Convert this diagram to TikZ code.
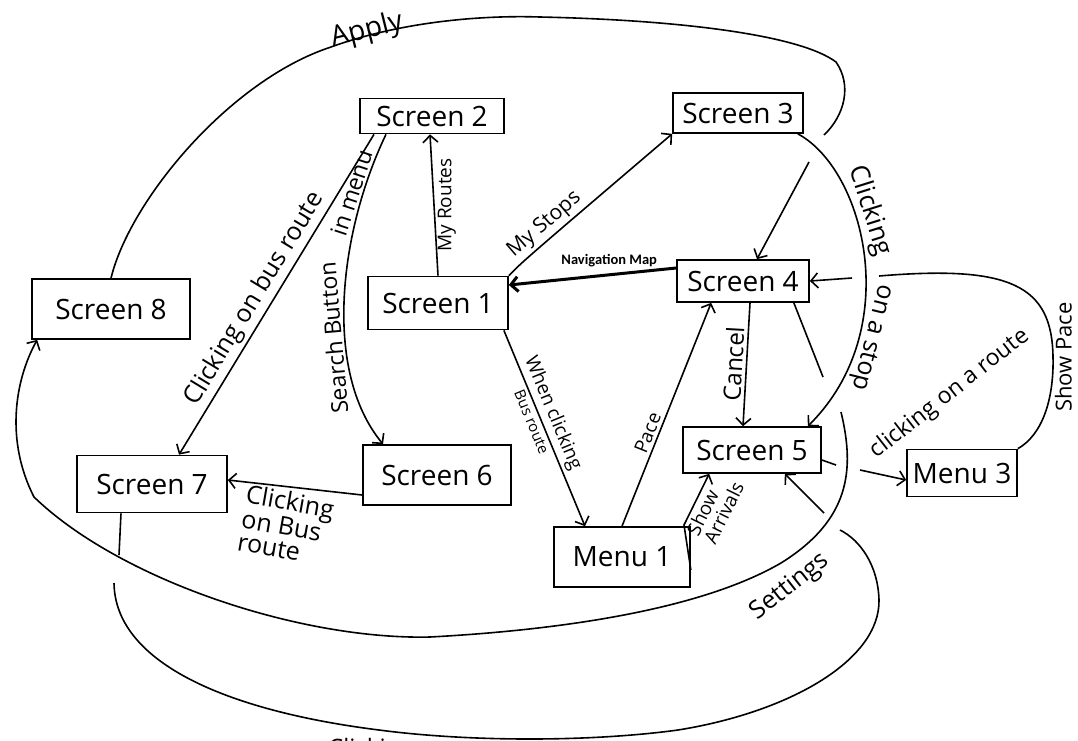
\documentclass[tikz,border=0pt]{standalone}
\usepackage{fontspec}
\setmainfont{Open Sans}
\newfontfamily\typedfont{Carlito}
\usetikzlibrary{arrows.meta}
\newcommand{\handsize}[1]{\fontsize{#1}{#1}\selectfont}

\begin{document}
\begin{tikzpicture}[x=1pt,y=-1pt,
    scr/.style={draw,line width=1.7pt,inner sep=0pt,font=\handsize{28}},
    ln/.style={line width=1.6pt},
    fl/.style={ln,-{Straight Barb[length=7pt,width=15pt]}},
    lab/.style={font=\handsize{24},inner sep=3pt}]
  \useasboundingbox (0,0) rectangle (1078,740);
  % screens and menus
  \node[scr,minimum width=144pt,minimum height=35pt] (s2) at (432,116) {Screen 2};
  \node[scr,minimum width=130pt,minimum height=40pt] (s3) at (738,113) {Screen 3};
  \node[scr,minimum width=158pt,minimum height=60pt] (s8) at (111,309) {Screen 8};
  \node[scr,minimum width=140pt,minimum height=53pt] (s1) at (438,303) {Screen 1};
  \node[scr,minimum width=132pt,minimum height=42pt] (s4) at (743,281) {Screen 4};
  \node[scr,minimum width=150pt,minimum height=57pt] (s7) at (152,484) {Screen 7};
  \node[scr,minimum width=148pt,minimum height=60pt] (s6) at (437,475) {Screen 6};
  \node[scr,minimum width=138pt,minimum height=46pt] (s5) at (752,450) {Screen 5};
  \node[scr,minimum width=136pt,minimum height=60pt] (m1) at (622,557) {Menu 1};
  \node[scr,minimum width=110pt,minimum height=47pt] (m3) at (962,473) {Menu 3};
  % Apply
  \coordinate (apA) at (824,135);
  \coordinate (apB) at (809,162);
  \draw[ln] (s8.north) .. controls (130,200) and (230,80) .. (331,47)
    .. controls (400,22) and (480,15) .. (540,17)
    .. controls (680,20) and (800,35) .. (836,62)
    .. controls (852,85) and (845,115) .. (apA);
  \node[lab,font=\handsize{28},rotate=14] (lapply) at (367,31) {Apply};
  \draw[fl] (apB) -- ([xshift=14pt]s4.north);
  % Screen 2 to 7 and 6
  \draw[fl] ([xshift=-58pt]s2.south) -- ([xshift=27pt]s7.north)
    node[lab,font=\handsize{25},pos=0.54,sloped,above] {Clicking on bus route};
  \draw[fl] ([xshift=-46pt]s2.south) .. controls (340,230) and (322,370) .. ([xshift=-54pt]s6.north)
    node[lab,font=\handsize{23},pos=0.2,rotate=72,anchor=south,inner sep=2pt] {in menu}
    node[lab,font=\handsize{23},pos=0.62,rotate=95,anchor=south,inner sep=2pt] {Search Button};
  % Screen 1
  \draw[fl] (s1.north) -- ([xshift=-2pt]s2.south)
    node[lab,font=\handsize{19},midway,rotate=90,anchor=north] {My Routes};
  \draw[fl] (s1.north east) .. controls (522,262) .. (s3.south west)
    node[lab,font=\handsize{21},pos=0.6,sloped,above] {My Stops};
  \draw[fl,line width=3pt] ([yshift=13pt]s4.west) -- ([yshift=18pt]s1.east)
    node[pos=0.4,above=3pt,font=\typedfont\bfseries\handsize{14.5}] {Navigation Map};
  \draw[fl] ([xshift=-5pt]s1.south east) -- ([xshift=-37pt]m1.north)
    node[lab,font=\handsize{19},pos=0.45,sloped,above] {When clicking}
    node[lab,font=\handsize{15},pos=0.45,sloped,below] {Bus route};
  % Screen 4 and 5
  \draw[fl] (m1.north) -- ([xshift=35pt]s4.south west)
    node[lab,font=\handsize{19},pos=0.4,sloped,above] {Pace};
  \draw[fl] ([xshift=7pt]s4.south) -- ([xshift=-9pt]s5.north)
    node[lab,midway,sloped,above] {Cancel};
  \coordinate (c4) at (823,377);
  \draw[ln] ([xshift=-16pt]s4.south east) -- (c4);
  \draw[fl] ([xshift=-6pt]s3.south east) .. controls (865,170) and (905,330) .. ([xshift=-14pt]s5.north east)
    node[lab,font=\handsize{26},pos=0.37,sloped,above,inner sep=1pt] {Clicking}
    node[lab,font=\handsize{25},pos=0.72,sloped,above,allow upside down,inner sep=0pt] {on a stop};
  % Menu 3
  \coordinate (spA) at (879,276);
  \coordinate (spB) at (852,278);
  \draw[ln] (m3.north east) .. controls (1042,435) and (1054,400) .. (1053,357)
    node[lab,font=\handsize{22},rotate=90,anchor=north,inner sep=1pt] {Show Pace}
    .. controls (1052,285) and (1010,265) .. (spA);
  \draw[fl] (spB) -- (s4.east);
  \coordinate (rtA) at (836,465);
  \coordinate (rtB) at (860,470);
  \draw[ln] ([yshift=-10pt]s5.east) -- (rtA);
  \draw[fl] (rtB) -- ([yshift=-7pt]m3.west);
  \node[lab,font=\handsize{23},rotate=38] (lroute) at (950,394) {clicking on a route};
  % Menu 1 to Screen 5
  \draw[fl] ([yshift=-13pt]m1.east) -- (684,525) -- ([xshift=27pt]s5.south west)
    node[lab,font=\handsize{19},midway,sloped,below,align=left] {Show\\Arrivals};
  % bottom loop
  \coordinate (bA) at (119,555);
  \coordinate (bB) at (114,583);
  \coordinate (bC) at (840,530);
  \coordinate (bD) at (824,513);
  \draw[ln] ([xshift=-31pt]s7.south) -- (bA);
  \draw[ln] (bB) .. controls (115,660) and (220,710) .. (379,730)
    .. controls (470,742) and (590,742) .. (678,730)
    .. controls (790,712) and (880,660) .. (879,600)
    .. controls (878,565) and (860,540) .. (bC);
  \draw[fl] (bD) -- ([xshift=-37pt]s5.south east);
  \node[lab,font=\handsize{24},anchor=north west] (lbottom) at (325,735) {Clicking};
  % Settings
  \coordinate (stA) at (841,412);
  \draw[fl] (stA) .. controls (855,470) and (850,520) .. (781,563)
    .. controls (700,610) and (560,630) .. (430,637)
    .. controls (300,640) and (120,580) .. (34,497)
    .. controls (5,440) and (15,380) .. ([xshift=6pt]s8.south west);
  \node[lab,font=\handsize{25},rotate=38] (lsettings) at (790,587) {Settings};
  % Screen 6 to 7
  \draw[fl] ([yshift=-20pt]s6.west) -- ([yshift=4pt]s7.east);
  \node[lab,font=\fontsize{25}{23}\selectfont,rotate=-10,align=left] (lbus) at (286,525) {Clicking\\on Bus\\route};
\end{tikzpicture}
\end{document}
